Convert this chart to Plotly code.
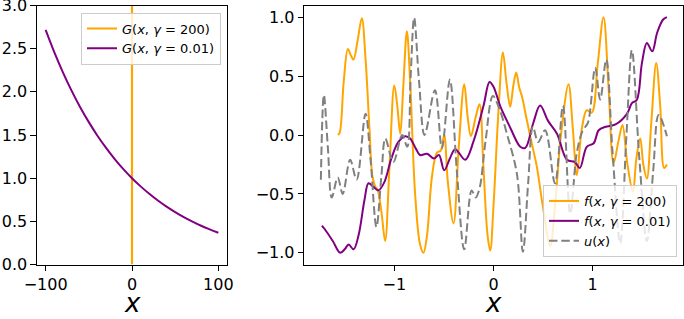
import plotly.graph_objects as go

# ---------------- Left panel data ----------------
g_x = [-100, -90, -80, -70, -60, -50, -40, -30, -20, -10, 0, 10, 20, 30, 40, 50, 60, 70, 80, 90, 100]
g001_y = [2.718, 2.46, 2.226, 2.014, 1.822, 1.649, 1.492, 1.35, 1.221, 1.105, 1.0,
          0.905, 0.819, 0.741, 0.670, 0.607, 0.549, 0.497, 0.449, 0.407, 0.368]
g200_x = [-0.1, 0, 0.1]
g200_y = [0, 200, 0]

# ---------------- Right panel data ----------------
f200_x = [-1.568, -1.55, -1.51, -1.468, -1.44, -1.411, -1.37, -1.327, -1.29, -1.25, -1.22, -1.19,
          -1.17, -1.13, -1.092, -1.05, -1.0, -0.97, -0.94, -0.91, -0.873, -0.84, -0.79, -0.74,
          -0.706, -0.67, -0.62, -0.57, -0.53, -0.497, -0.46, -0.403, -0.35, -0.295, -0.26, -0.228,
          -0.18, -0.141, -0.10, -0.06, -0.033, 0.0, 0.05, 0.095, 0.13, 0.168, 0.20, 0.229, 0.26,
          0.286, 0.33, 0.38, 0.437, 0.50, 0.572, 0.62, 0.68, 0.756, 0.80, 0.84, 0.89, 0.94, 0.99,
          1.05, 1.109, 1.16, 1.21, 1.26, 1.30, 1.35, 1.405, 1.44, 1.479, 1.51, 1.546, 1.59, 1.64,
          1.68, 1.72, 1.748]
f200_y = [0.0, 0.02, 0.45, 0.73, 0.68, 0.64, 0.80, 0.99, 0.65, 0.05, -0.35, -0.44,
          -0.46, -0.65, -0.90, -0.30, 0.42, 0.25, 0.01, 0.40, 0.88, 0.45, -0.50, -0.93,
          -1.0, -0.85, -0.35, -0.15, -0.13, 0.0, -0.40, -0.75, -0.10, 0.43, 0.15, -0.01,
          0.15, 0.26, -0.30, -0.85, -0.98, -0.60, 0.20, 0.70, 0.45, 0.24, 0.42, 0.53, 0.40,
          0.33, 0.15, -0.05, -0.27, -0.62, -0.94, -0.60, 0.0, 0.43, 0.05, -0.34, 0.05, 0.21, 0.19,
          0.60, 1.0, 0.40, -0.24, -0.05, 0.085, -0.25, -0.48, -0.20, -0.03, -0.25, -0.37, 0.10, 0.61,
          0.25, -0.28, -0.25]

f001_x = [-1.73, -1.70, -1.62, -1.545, -1.50, -1.46, -1.41, -1.36, -1.30, -1.26, -1.21, -1.16,
          -1.10, -1.03, -0.96, -0.89, -0.84, -0.78, -0.74, -0.67, -0.60, -0.55, -0.497, -0.44,
          -0.386, -0.285, -0.20, -0.10, -0.04, 0.0, 0.07, 0.17, 0.27, 0.32, 0.40, 0.47, 0.55,
          0.64, 0.74, 0.82, 0.87, 0.94, 1.01, 1.06, 1.13, 1.23, 1.345, 1.395, 1.445, 1.496,
          1.546, 1.60, 1.65, 1.71, 1.748]
f001_y = [-0.77, -0.80, -0.90, -1.0, -0.97, -0.93, -0.97, -0.85, -0.55, -0.41, -0.44, -0.47,
          -0.40, -0.20, -0.06, -0.01, -0.03, -0.12, -0.17, -0.16, -0.20, -0.17, -0.30, -0.20,
          -0.12, -0.21, -0.05, 0.25, 0.45, 0.41, 0.24, 0.06, -0.10, -0.11, 0.10, 0.25, 0.12,
          0.01, -0.21, -0.23, -0.28, -0.10, -0.07, 0.04, 0.07, 0.09, 0.18, 0.27, 0.30, 0.61,
          0.78, 0.71, 0.87, 0.98, 1.0]

u_x = [-1.74, -1.71, -1.67, -1.63, -1.57, -1.52, -1.445, -1.38, -1.29, -1.24, -1.18, -1.13,
       -1.09, -1.01, -0.92, -0.87, -0.835, -0.80, -0.75, -0.695, -0.59, -0.52, -0.44, -0.37,
       -0.295, -0.22, -0.18, -0.14, -0.08, -0.006, 0.06, 0.135, 0.236, 0.296, 0.35, 0.397,
       0.45, 0.52, 0.62, 0.70, 0.773, 0.84, 0.90, 0.95, 1.025, 1.075, 1.136, 1.20, 1.277,
       1.34, 1.395, 1.47, 1.546, 1.61, 1.665, 1.748]
u_y = [-0.38, 0.34, -0.10, -0.53, -0.36, -0.50, -0.21, -0.38, 0.18, -0.20, -0.78, -0.35,
       -0.03, -0.23, 0.0, -0.10, 0.50, 0.995, 0.45, 0.0, 0.38, -0.11, 0.47, -0.30,
       -0.97, -0.47, -0.53, -0.45, -0.05, 0.33, 0.22, 0.01, -0.33, -0.99, -0.40, 0.07,
       -0.06, 0.04, -0.41, 0.25, -0.67, -0.15, 0.04, 0.10, 0.57, 0.30, 0.64, -0.15, -0.92,
       0.0, 0.72, -0.20, -0.90, -0.30, 0.17, -0.01]

x_title = "<i>x</i>"

ORANGE = "#FFA500"
PURPLE = "#800080"
GRAY = "#808080"
FONT = "DejaVu Sans"
LW = 2

fig = go.Figure()

fig.add_trace(go.Scatter(x=g200_x, y=g200_y, mode="lines", line=dict(color=ORANGE, width=LW),
                         name="<i>G</i>(<i>x</i>, <i>γ</i> = 200)", xaxis="x", yaxis="y", legend="legend"))
fig.add_trace(go.Scatter(x=g_x, y=g001_y, mode="lines", line=dict(color=PURPLE, width=LW, shape="spline"),
                         name="<i>G</i>(<i>x</i>, <i>γ</i> = 0.01)", xaxis="x", yaxis="y", legend="legend"))

fig.add_trace(go.Scatter(x=f200_x, y=f200_y, mode="lines",
                         line=dict(color=ORANGE, width=LW, shape="spline", smoothing=1.0),
                         name="<i>f</i>(<i>x</i>, <i>γ</i> = 200)", xaxis="x2", yaxis="y2", legend="legend2"))
fig.add_trace(go.Scatter(x=f001_x, y=f001_y, mode="lines",
                         line=dict(color=PURPLE, width=LW, shape="spline", smoothing=1.0),
                         name="<i>f</i>(<i>x</i>, <i>γ</i> = 0.01)", xaxis="x2", yaxis="y2", legend="legend2"))
fig.add_trace(go.Scatter(x=u_x, y=u_y, mode="lines",
                         line=dict(color=GRAY, width=LW, shape="spline", smoothing=1.0, dash="8.5px,3.8px"),
                         name="<i>u</i>(<i>x</i>)", xaxis="x2", yaxis="y2", legend="legend2"))

axis_common = dict(showline=True, linecolor="black", linewidth=1.2, mirror=True, ticks="outside",
                   ticklen=5.5, tickwidth=1.2, tickcolor="black", showgrid=False, zeroline=False,
                   ticklabeloverflow="allow", automargin=False,
                   tickfont=dict(family=FONT, size=16, color="black"))

title_font = dict(family=FONT, size=26, color="black")

fig.update_layout(
    width=684, height=319,
    margin=dict(l=0, r=0, t=0, b=0, autoexpand=False),
    paper_bgcolor="white", plot_bgcolor="white",
    font=dict(family=FONT, size=13, color="black"),
    xaxis=dict(domain=[37 / 684, 227 / 684], range=[-110, 110], tickvals=[-100, 0, 100],
               ticktext=["\u2212100", "0", "100"], anchor="y", **axis_common),
    yaxis=dict(domain=[1 - 264.5 / 319, 1 - 5.5 / 319], range=[0, 3],
               tickvals=[0, 0.5, 1, 1.5, 2, 2.5, 3], tickformat=".1f", anchor="x", **axis_common),
    xaxis2=dict(domain=[304.3 / 684, 682.7 / 684], range=[-1.907, 1.907], tickvals=[-1, 0, 1],
                ticktext=["\u22121", "0", "1"], anchor="y2", **axis_common),
    yaxis2=dict(domain=[1 - 264.5 / 319, 1 - 5.5 / 319], range=[-1.099, 1.099],
                tickvals=[-1, -0.5, 0, 0.5, 1],
                ticktext=["\u22121.0", "\u22120.5", "0.0", "0.5", "1.0"], anchor="x2", **axis_common),
    legend=dict(x=81 / 684, y=1 - 12.5 / 319, xanchor="left", yanchor="top",
                bgcolor="rgba(255,255,255,0.8)", bordercolor="#cccccc", borderwidth=1,
                font=dict(family=FONT, size=13), itemwidth=30, tracegroupgap=0),
    legend2=dict(x=543 / 684, y=1 - 257 / 319, xanchor="left", yanchor="bottom",
                 bgcolor="rgba(255,255,255,0.8)", bordercolor="#cccccc", borderwidth=1,
                 font=dict(family=FONT, size=13), itemwidth=30, tracegroupgap=0),
    showlegend=True,
    annotations=[
        dict(text=x_title, xref="paper", yref="paper", x=132 / 684, y=0.0,
             xanchor="center", yanchor="bottom", showarrow=False, font=title_font, borderpad=0),
        dict(text=x_title, xref="paper", yref="paper", x=493.5 / 684, y=0.0,
             xanchor="center", yanchor="bottom", showarrow=False, font=title_font, borderpad=0),
    ],
)

fig.write_html("out.html")
